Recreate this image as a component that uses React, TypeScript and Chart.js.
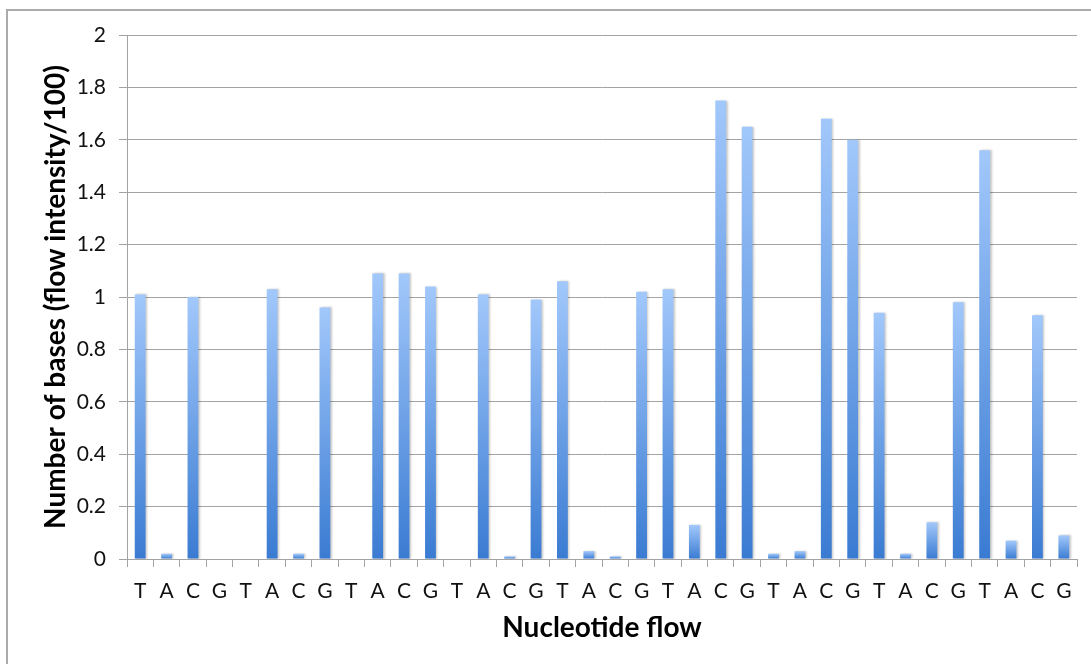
import React, { useEffect, useRef } from "react";
import { Chart, registerables } from "chart.js";

Chart.register(...registerables);

// Flow order of nucleotides, repeated over the run
const flowLabels: string[] = [
  "T", "A", "C", "G", "T", "A", "C", "G", "T", "A", "C", "G",
  "T", "A", "C", "G", "T", "A", "C", "G", "T", "A", "C", "G",
  "T", "A", "C", "G", "T", "A", "C", "G", "T", "A", "C", "G",
];

// Signal per flow (flow intensity / 100)
const flowValues: number[] = [
  1.01, 0.02, 1.0, 0, 0, 1.03, 0.02, 0.96, 0, 1.09, 1.09, 1.04,
  0, 1.01, 0.01, 0.99, 1.06, 0.03, 0.01, 1.02, 1.03, 0.13, 1.75, 1.65,
  0.02, 0.03, 1.68, 1.6, 0.94, 0.02, 0.14, 0.98, 1.56, 0.07, 0.93, 0.09,
];

const yAxisTitle = "Number of bases (flow intensity/100)";
const xAxisTitle = "Nucleotide flow";

const W = 1091;
const H = 664;
const FONT = "Lato, 'Open Sans', sans-serif";
const GRID = "#a3a3a3";

// Thin frame around the chart area
const framePlugin = {
  id: "frame",
  beforeDraw(chart: Chart) {
    const c = chart.ctx;
    c.save();
    c.fillStyle = "#ffffff";
    c.fillRect(0, 0, chart.width, chart.height);
    c.strokeStyle = "#ababab";
    c.lineWidth = 2;
    c.beginPath();
    c.moveTo(7, H + 5);
    c.lineTo(7, 10);
    c.lineTo(W + 5, 10);
    c.stroke();
    c.restore();
  },
};

// Soft drop shadow on the bars
const shadowPlugin = {
  id: "barShadow",
  beforeDatasetsDraw(chart: Chart) {
    const c = chart.ctx;
    c.save();
    c.shadowColor = "rgba(0,0,0,0.22)";
    c.shadowBlur = 2;
    c.shadowOffsetX = 1.5;
    c.shadowOffsetY = 0;
  },
  afterDatasetsDraw(chart: Chart) {
    chart.ctx.restore();
  },
};

export default function App() {
  const ref = useRef<HTMLCanvasElement | null>(null);

  useEffect(() => {
    if (!ref.current) return;
    const chart = new Chart(ref.current, {
      type: "bar",
      data: {
        labels: flowLabels,
        datasets: [
          {
            data: flowValues,
            barPercentage: 0.41,
            categoryPercentage: 1,
            backgroundColor: (ctx: any) => {
              const ch = ctx.chart;
              const y = ch.scales && ch.scales.y;
              if (!y || ctx.type !== "data") return "#6a9fe6";
              const top = y.getPixelForValue(ctx.raw);
              const base = y.getPixelForValue(0);
              if (!isFinite(top) || !isFinite(base) || top === base) return "#6a9fe6";
              const g = ch.ctx.createLinearGradient(0, top, 0, base);
              g.addColorStop(0, "#a2c8fb");
              g.addColorStop(1, "#3a7bd2");
              return g;
            },
            borderWidth: 0,
          },
        ],
      },
      options: {
        animation: false,
        responsive: false,
        layout: { padding: { left: 0, top: 35, right: 14, bottom: 0 } },
        plugins: {
          legend: { display: false },
          tooltip: { enabled: false },
        },
        scales: {
          x: {
            offset: true,
            grid: {
              offset: true,
              drawOnChartArea: false,
              drawTicks: true,
              tickLength: 8,
              color: GRID,
            },
            border: { color: GRID, width: 1 },
            ticks: {
              color: "#111",
              font: { family: FONT, size: 21 },
              padding: 12,
              maxRotation: 0,
              autoSkip: false,
            },
            title: {
              display: true,
              text: xAxisTitle,
              color: "#000",
              font: { family: FONT, size: 28, weight: "bold" },
              padding: { top: 8, bottom: 19 },
            },
            afterFit: (s: any) => {
              s.height = H - 559;
            },
          },
          y: {
            min: 0,
            max: 2,
            grid: {
              color: GRID,
              tickLength: 8,
              lineWidth: 1,
            },
            border: { color: GRID, width: 1 },
            ticks: {
              stepSize: 0.2,
              color: "#111",
              font: { family: FONT, size: 21 },
              padding: 13,
              callback: (v: any) => String(Math.round(Number(v) * 10) / 10),
            },
            title: {
              display: true,
              text: yAxisTitle,
              color: "#000",
              font: { family: FONT, size: 28, weight: "bold" },
              padding: { top: 39, bottom: 0 },
            },
            afterFit: (s: any) => {
              s.width = 127;
            },
          },
        },
      },
      plugins: [framePlugin, shadowPlugin],
    });
    return () => chart.destroy();
  }, []);

  return (
    <div
      style={{
        position: "fixed",
        left: 0,
        top: 0,
        width: W,
        height: H,
        background: "#fff",
      }}
    >
      <canvas ref={ref} width={W} height={H} style={{ display: "block" }} />
    </div>
  );
}
